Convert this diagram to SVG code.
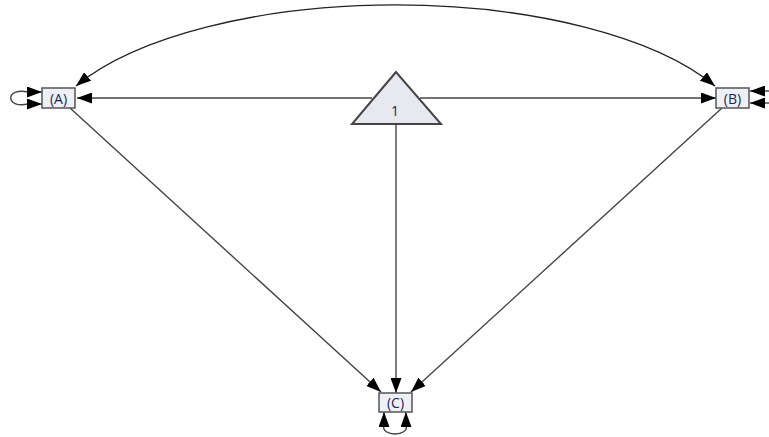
<svg xmlns="http://www.w3.org/2000/svg" width="769" height="437" viewBox="0 0 769 437">
<style>
.box{fill:#eef0f5;stroke:#555;stroke-width:1.5}
.lbl{font-family:"Open Sans","Noto Sans",sans-serif;font-size:14px;fill:#1a2558;text-anchor:middle;dominant-baseline:central}
.ln{fill:none;stroke:#444;stroke-width:1.4}
.arc{fill:none;stroke:#222;stroke-width:1.3}
</style>
<defs>
<marker id="ah" viewBox="0 0 15 11" refX="15" refY="5.5" markerWidth="15" markerHeight="11" markerUnits="userSpaceOnUse" orient="auto-start-reverse">
<path d="M0,0 L15,5.5 L0,11 Z" fill="#000"/>
</marker>
</defs>
<rect width="769" height="437" fill="#fff"/>
<g id="connectors">
<path class="arc" d="M76,86 A356,145 0 0 1 715,86" marker-start="url(#ah)" marker-end="url(#ah)"/>
<line class="ln" x1="372" y1="98" x2="77" y2="98" marker-end="url(#ah)"/>
<line class="ln" x1="420" y1="98" x2="716" y2="98" marker-end="url(#ah)"/>
<line class="ln" x1="396" y1="123" x2="396" y2="393" marker-end="url(#ah)"/>
<line class="ln" x1="70" y1="108" x2="381" y2="392" marker-end="url(#ah)"/>
<line class="ln" x1="722" y1="108" x2="411" y2="392" marker-end="url(#ah)"/>
<path class="ln" d="M28,92 C5,87 5,109 28,104" />
<line class="ln" x1="27" y1="92" x2="42" y2="92" marker-end="url(#ah)"/>
<line class="ln" x1="27" y1="104" x2="42" y2="104" marker-end="url(#ah)"/>
<line class="ln" x1="769" y1="91" x2="750" y2="91" marker-end="url(#ah)"/>
<line class="ln" x1="769" y1="103" x2="750" y2="103" marker-end="url(#ah)"/>
<path class="ln" d="M384,425 C380,437 410,437 406,425"/>
<line class="ln" x1="384" y1="426" x2="384" y2="412" marker-end="url(#ah)"/>
<line class="ln" x1="406" y1="426" x2="406" y2="412" marker-end="url(#ah)"/>
</g>
<g id="node-1">
<polygon points="396,72 352,124 441,124" fill="#e8e9f0" stroke="#444" stroke-width="2"/>
<text class="lbl" x="395" y="110">1</text>
</g>
<g id="node-A">
<rect class="box" x="42" y="88" width="33" height="20"/>
<text class="lbl" x="58.5" y="98">(A)</text>
</g>
<g id="node-B">
<rect class="box" x="716" y="88" width="33" height="20"/>
<text class="lbl" x="732.5" y="98">(B)</text>
</g>
<g id="node-C">
<rect class="box" x="379" y="393" width="33" height="19"/>
<text class="lbl" x="395.5" y="402.5">(C)</text>
</g>
</svg>
